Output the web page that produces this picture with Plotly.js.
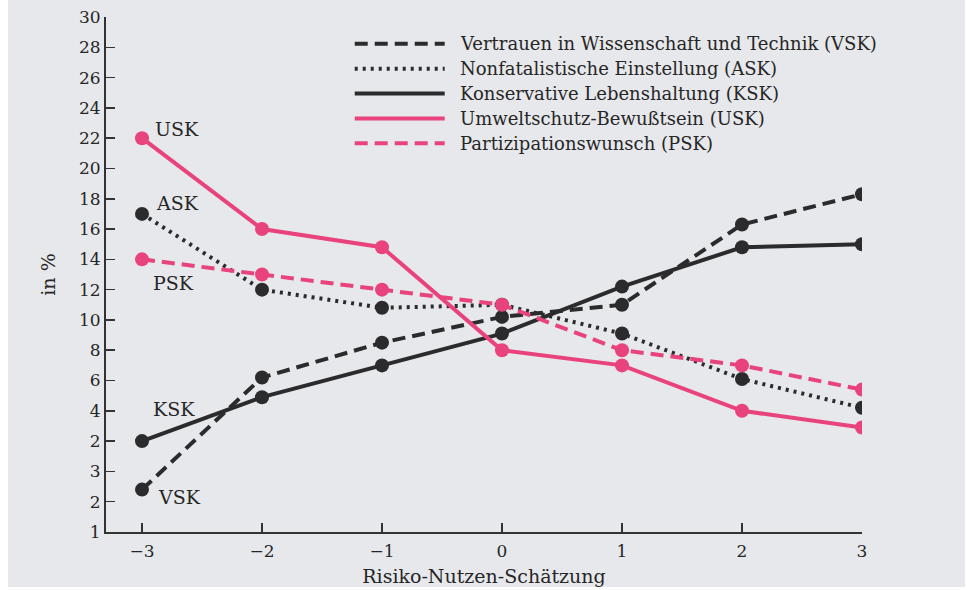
<!DOCTYPE html>
<html>
<head>
<meta charset="utf-8">
<script src="https://cdn.plot.ly/plotly-3.0.1.min.js"></script>
<style>
  html, body { margin: 0; padding: 0; background: #ffffff; }
  #chart { position: absolute; left: 8px; top: 0px; width: 957px; height: 587px; }
</style>
</head>
<body>
<div id="chart"></div>
<script>
// x categories (Risiko-Nutzen-Schätzung)
const xValues = [-3, -2, -1, 0, 1, 2, 3];

// series values (in the axis' own linear coordinate, as drawn)
const vsk = [-1.2, 6.2, 8.5, 10.2, 11.0, 16.3, 18.3];
const ask = [17.0, 12.0, 10.8, 11.0, 9.1, 6.1, 4.2];
const ksk = [2.0, 4.9, 7.0, 9.1, 12.2, 14.8, 15.0];
const usk = [22.0, 16.0, 14.8, 8.0, 7.0, 4.0, 2.9];
const psk = [14.0, 13.0, 12.0, 11.0, 8.0, 7.0, 5.4];

// series names
const seriesNames = [
  "Vertrauen in Wissenschaft und Technik (VSK)",
  "Nonfatalistische Einstellung (ASK)",
  "Konservative Lebenshaltung (KSK)",
  "Umweltschutz-Bewußtsein (USK)",
  "Partizipationswunsch (PSK)"
];
const shortNames = ["VSK", "ASK", "KSK", "USK", "PSK"];

// y-axis tick labels (as printed)
const yTickVals = [-4, -2, 0, 2, 4, 6, 8, 10, 12, 14, 16, 18, 20, 22, 24, 26, 28, 30];
const yTickText = ["1", "2", "3", "2", "4", "6", "8", "10", "12", "14", "16", "18", "20", "22", "24", "26", "28", "30"];
const xTickText = ["\u22123", "\u22122", "\u22121", "0", "1", "2", "3"];

const BLACK = "#2b2b2d";
const PINK = "#e8437c";
const FONT = "DejaVu Serif, serif";
const TXT = "#262626";

const allY = [vsk, ask, ksk, usk, psk];
const colors = [BLACK, BLACK, BLACK, PINK, PINK];
const dashes = ["13px,7px", "3px,5px", "solid", "solid", "13px,7px"];

const traces = allY.map((ys, i) => ({
  type: "scatter",
  mode: "lines+markers",
  x: xValues,
  y: ys,
  name: seriesNames[i],
  showlegend: false,
  line: { color: colors[i], width: 4, dash: dashes[i] },
  marker: { color: colors[i], size: 14, line: { width: 0 } },
  hoverinfo: "x+y+name"
}));

// inline labels near the first point of each series
const labelShift = {
  VSK: { x: 14, y: -7 },
  ASK: { x: 12, y: 11 },
  KSK: { x: 9, y: 32 },
  USK: { x: 11, y: 9 },
  PSK: { x: 9, y: -24 }
};
const annotations = shortNames.map((s, i) => ({
  x: xValues[0], y: allY[i][0], xref: "x", yref: "y",
  text: s, showarrow: false,
  xanchor: "left", yanchor: "middle",
  xshift: labelShift[s].x, yshift: labelShift[s].y,
  font: { family: FONT, size: 19, color: TXT }
}));

// custom legend (long line samples, as in the original)
const legendTop = 0.948, legendStep = 0.0483;
const shapes = [];
seriesNames.forEach((n, i) => {
  const yy = legendTop - i * legendStep;
  shapes.push({
    type: "line", xref: "paper", yref: "paper",
    x0: 0.329, x1: 0.448, y0: yy, y1: yy,
    line: { color: colors[i], width: 4, dash: dashes[i] }
  });
  annotations.push({
    x: 0.466, y: yy, xref: "paper", yref: "paper",
    text: n, showarrow: false, xanchor: "left", yanchor: "middle",
    font: { family: FONT, size: 18, color: TXT }
  });
});

const layout = {
  width: 957, height: 587,
  paper_bgcolor: "#e7e8eb",
  plot_bgcolor: "#e7e8eb",
  margin: { l: 98, r: 103, t: 17, b: 55 },
  showlegend: false,
  font: { family: FONT, size: 17, color: TXT },
  xaxis: {
    range: [-3.3, 3.0],
    tickvals: xValues, ticktext: xTickText,
    ticks: "inside", ticklen: 9, tickwidth: 1.5, tickcolor: "#333",
    ticklabelstandoff: 3,
    showline: true, linecolor: "#333", linewidth: 2,
    showgrid: false, zeroline: false,
    tickfont: { family: FONT, size: 17, color: TXT },
    title: { text: "Risiko-Nutzen-Schätzung", font: { family: FONT, size: 19, color: TXT }, standoff: 12 }
  },
  yaxis: {
    range: [-4, 30],
    tickvals: yTickVals, ticktext: yTickText,
    ticks: "inside", ticklen: 9, tickwidth: 1.5, tickcolor: "#333",
    showline: true, linecolor: "#333", linewidth: 2,
    showgrid: false, zeroline: false,
    tickfont: { family: FONT, size: 17, color: TXT },
    title: { text: "in %", font: { family: FONT, size: 19, color: TXT }, standoff: 18 }
  },
  annotations: annotations,
  shapes: shapes
};

Plotly.newPlot("chart", traces, layout, { displayModeBar: false, staticPlot: true });
</script>
</body>
</html>
